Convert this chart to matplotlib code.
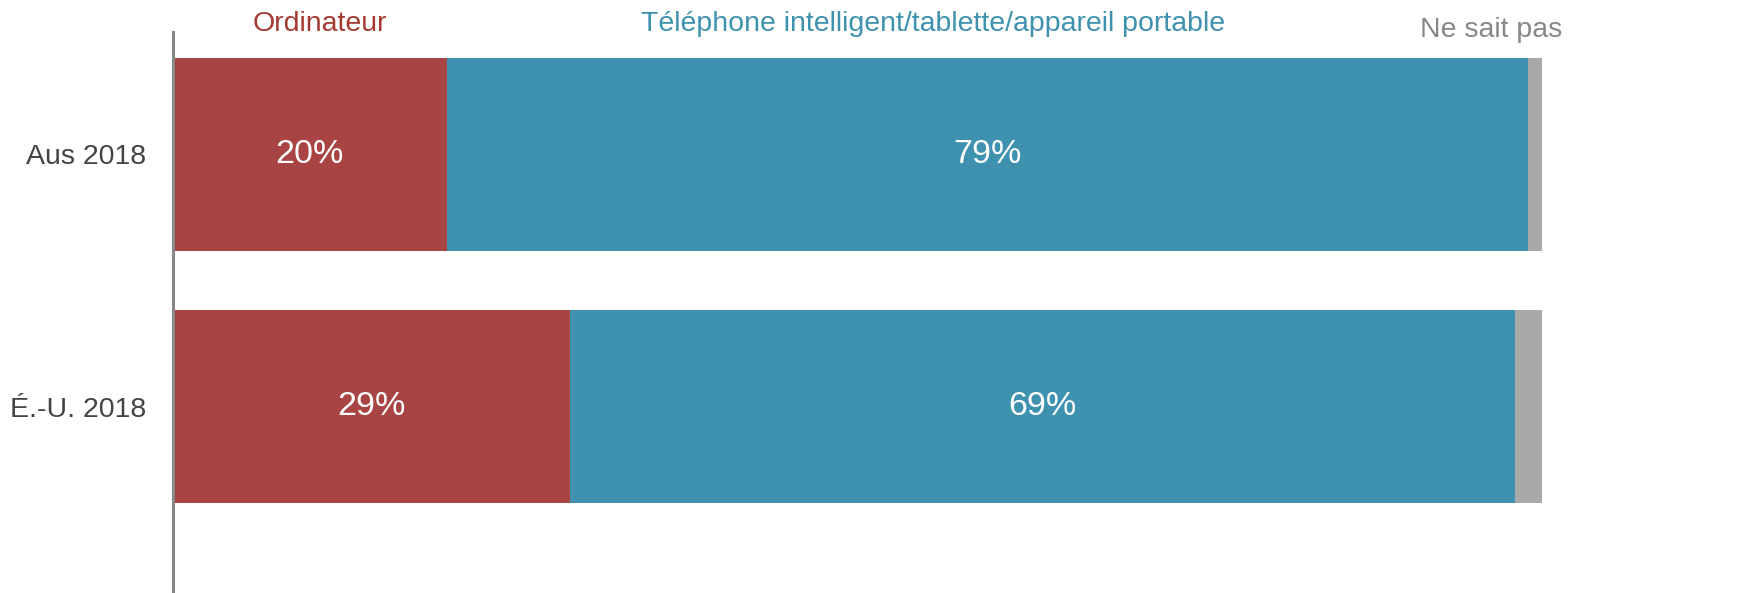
import matplotlib
matplotlib.use("Agg")
import matplotlib.pyplot as plt

plt.rcParams['font.family'] = ['Liberation Sans', 'DejaVu Sans']

categories = ["Aus 2018", "É.-U. 2018"]
series_names = ["Ordinateur", "Téléphone intelligent/tablette/appareil portable", "Ne sait pas"]
ordinateur = [20, 29]
telephone = [79, 69]
ne_sait_pas = [1, 2]

bar_colors = ["#A84444", "#3E92AF", "#A9A9A9"]
head_colors = ["#A33B30", "#3E92AF", "#888888"]

W, H = 1756, 593
fig = plt.figure(figsize=(W / 100, H / 100), dpi=100)
ax = fig.add_axes([173 / W, 0, (1542 - 173) / W, (593 - 32) / H])

ypos = list(range(len(categories)))
left = [0] * len(categories)
for vals, col in zip([ordinateur, telephone, ne_sait_pas], bar_colors):
    ax.barh(ypos, vals, left=left, height=0.766, color=col, edgecolor="none")
    for y, v, l in zip(ypos, vals, left):
        if v >= 5:
            ax.text(l + v / 2, y, f"{v}%", ha="center", va="center",
                    color="white", fontsize=24.5)
    left = [a + b for a, b in zip(left, vals)]

ax.set_xlim(0, 100)
ax.set_ylim(1.74, -0.486)
ax.set_yticks(ypos)
ax.set_yticklabels(categories, fontsize=20.5, color="#444444")
ax.tick_params(axis="y", length=0, pad=19)
ax.set_xticks([])
for s in ["top", "right", "bottom"]:
    ax.spines[s].set_visible(False)
ax.spines["left"].set_color("#888888")
ax.spines["left"].set_linewidth(2.2)

# header labels
fig.text(320 / W, 1 - 24 / H, series_names[0], ha="center", va="center",
         fontsize=20.5, color=head_colors[0])
fig.text(933 / W, 1 - 24 / H, series_names[1], ha="center", va="center",
         fontsize=20.5, color=head_colors[1])
fig.text(1562 / W, 1 - 30 / H, series_names[2], ha="right", va="center",
         fontsize=20.5, color=head_colors[2])

fig.savefig("out.png", dpi=100)
